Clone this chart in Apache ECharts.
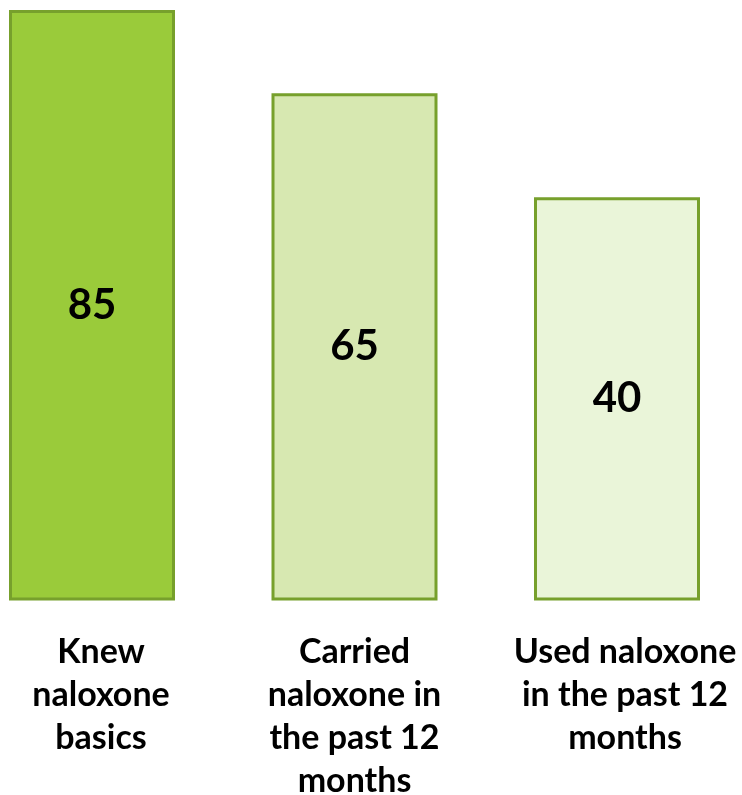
<!DOCTYPE html>
<html>
<head>
<meta charset="utf-8">
<script src="https://cdn.jsdelivr.net/npm/echarts@6/dist/echarts.min.js"></script>
<style>
  html, body { margin: 0; padding: 0; background: #ffffff; overflow: hidden; }
  #chart { width: 742px; height: 795px; }
</style>
</head>
<body>
<div id="chart"></div>
<script>
// Naloxone knowledge, carrying and use (percent of respondents)
const categories = [
  'Knew\nnaloxone\nbasics',
  'Carried\nnaloxone in\nthe past 12\nmonths',
  'Used naloxone\nin the past 12\nmonths'
];
const values = [85, 65, 40];

// Per-bar fill colours, darkest to lightest green
const barFills = ['#9acb3a', '#d7e8b1', '#eaf5d9'];
const barBorder = '#77a02c';
// Horizontal nudge (px) of each category caption relative to its bar
const captionShift = [9, 0, 8];

const chart = echarts.init(document.getElementById('chart'), null, {
  renderer: 'canvas', width: 742, height: 795
});

chart.setOption({
  animation: false,
  backgroundColor: '#ffffff',
  grid: {
    left: 92, width: 525, top: 10, height: 590.5,
    outerBoundsMode: 'none', containLabel: false
  },
  xAxis: {
    type: 'category',
    boundaryGap: false,
    data: categories.map((c, i) => ({
      value: c,
      textStyle: { padding: [0, 0, 0, captionShift[i] * 2] }
    })),
    axisLine: { show: false },
    axisTick: { show: false },
    axisLabel: {
      interval: 0,
      margin: 30,
      color: '#000000',
      fontFamily: 'Lato',
      fontWeight: 'bold',
      fontSize: 34,
      lineHeight: 43,
      align: 'center',
      verticalAlign: 'top'
    }
  },
  yAxis: {
    type: 'value',
    min: -57,
    max: 85,
    startValue: -57,
    show: false,
    splitLine: { show: false }
  },
  series: [{
    type: 'bar',
    barWidth: 166,
    clip: false,
    data: values.map((v, i) => ({
      value: v,
      itemStyle: { color: barFills[i] }
    })),
    itemStyle: { borderColor: barBorder, borderWidth: 3 },
    label: {
      show: true,
      position: 'inside',
      color: '#000000',
      fontFamily: 'Lato',
      fontWeight: 'bold',
      fontSize: 42
    }
  }]
});
</script>
</body>
</html>
